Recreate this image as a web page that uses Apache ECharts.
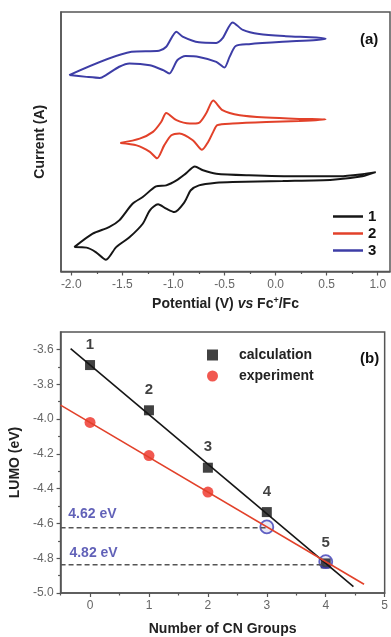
<!DOCTYPE html>
<html>
<head>
<meta charset="utf-8">
<script src="https://cdn.jsdelivr.net/npm/echarts@6/dist/echarts.min.js"></script>
<style>
html,body{margin:0;padding:0;background:#fff;}
#chart{width:391px;height:637px;}
</style>
</head>
<body>
<div id="chart"></div>
<script>
// ---------- Panel (a): cyclic voltammograms (current in arbitrary units) ----------
const cv1Potential = [-1.97,-1.79,-1.63,-1.53,-1.40,-1.30,-1.17,-1.07,-0.97,-0.88,-0.79,-0.71,-0.58,-0.26,0.23,0.63,0.85,0.98,
  0.85,0.56,0.07,-0.42,-0.58,-0.75,-0.83,-0.89,-0.99,-1.07,-1.15,-1.23,-1.30,-1.43,-1.56,-1.66,-1.76,-1.85,-1.97];
const cv1Current = [9.4,14.6,17.1,19.7,26.1,28.7,32.8,33.2,35.1,37.7,40.5,39.0,37.7,37.1,36.7,36.7,37.5,38.3,
  36.7,35.4,34.9,34.5,34.2,33.2,31.3,26.8,22.9,24.2,25.9,23.6,18.4,13.2,9.4,4.5,7.5,9.2,9.4];

const cv2Potential = [-1.52,-1.33,-1.20,-1.12,-1.07,-0.97,-0.84,-0.75,-0.68,-0.61,-0.52,-0.35,-0.09,0.23,0.49,
  0.23,-0.09,-0.42,-0.57,-0.61,-0.66,-0.72,-0.81,-0.94,-1.02,-1.09,-1.16,-1.23,-1.36,-1.52];
const cv2Current = [49.5,51.2,53.8,57.6,61.1,58.3,57.0,57.3,60.9,65.9,62.2,60.2,59.3,58.8,58.6,
  58.0,57.6,57.0,56.4,53.8,49.9,46.9,50.6,53.2,52.5,48.6,43.6,46.1,48.6,49.5];

const cv3Potential = [-2.02,-1.41,-1.14,-1.07,-0.97,-0.91,-0.75,-0.58,-0.52,-0.42,-0.32,-0.16,0.10,0.40,0.49,
  0.40,0.07,-0.26,-0.39,-0.45,-0.50,-0.58,-0.75,-0.88,-0.96,-1.04,-1.10,-1.23,-1.43,-1.53,-1.66,-1.72,-1.85,-2.02];
const cv3Current = [75.7,84.7,85.1,86.6,92.4,90.5,88.3,88.1,89.8,96.0,93.1,91.5,90.7,90.2,89.7,
  89.2,88.5,87.6,86.9,82.7,78.6,80.8,82.7,83.0,81.5,76.3,77.6,79.5,80.2,78.9,75.7,74.6,75.0,75.7];

const potentialTicks = [-2.0,-1.5,-1.0,-0.5,0.0,0.5,1.0];
const potentialMinorTicks = [-1.75,-1.25,-0.75,-0.25,0.25,0.75];
const cvNames = ['1','2','3'];

// ---------- Panel (b): LUMO vs number of CN groups ----------
const cnGroups = [0,1,2,3,4];
const lumoCalc = [-3.69,-3.95,-4.28,-4.535,-4.83];
const compoundLabels = ['1','2','3','4','5'];
const expGroups = [0,1,2];
const lumoExp = [-4.02,-4.21,-4.42];
const openGroups = [3,4];
const lumoOpen = [-4.62,-4.82];
const calcFitX = [-0.33,4.47];
const calcFitY = [-3.596,-4.964];
const expFitX = [-0.5,4.65];
const expFitY = [-3.92,-4.95];
const levelValues = [-4.625,-4.838];
const levelEnds = [3,4];
const levelTexts = ['4.62 eV','4.82 eV'];
const levelTextPos = [[-0.37,-4.546],[-0.35,-4.769]];
const cnTicks = [0,1,2,3,4,5];
const cnMinorTicks = [-0.5,0.5,1.5,2.5,3.5,4.5];
const lumoTicks = [-5.0,-4.8,-4.6,-4.4,-4.2,-4.0,-3.8,-3.6];
const lumoMinorTicks = [-4.9,-4.7,-4.5,-4.3,-4.1,-3.9,-3.7];

const zip = (a,b) => a.map((v,i)=>[v,b[i]]);

const axisCol = '#555';
const labelCol = '#666';
const blue = '#3d3da6';
const red = '#e2412a';
const black = '#161616';
const titleFont = {fontFamily:'Liberation Sans, Arial, sans-serif', fontWeight:'bold', fontSize:14, color:'#222'};

const chart = echarts.init(document.getElementById('chart'), null, {renderer:'canvas'});

const mainLine = {show:true, onZero:false, lineStyle:{color:axisCol, width:1.5}};

const option = {
  animation:false,
  backgroundColor:'#fff',
  textStyle:{fontFamily:'Liberation Sans, Arial, sans-serif'},
  title:[
    {text:'(a)', left:355, top:27, textStyle:{...titleFont, fontSize:15, color:'#111'}},
    {text:'(b)', left:355, top:346, textStyle:{...titleFont, fontSize:15, color:'#111'}}
  ],
  legend:[
    {
      data:cvNames, orient:'vertical', left:333, top:208, itemWidth:30, itemHeight:2.5, itemGap:0,
      padding:0, icon:'rect',
      textStyle:{...titleFont, fontSize:15, color:'#111', lineHeight:17}
    },
    {
      data:[{name:'calculation', icon:'rect'},{name:'experiment', icon:'circle'}],
      orient:'vertical', left:207, top:348, itemWidth:11, itemHeight:11, itemGap:7, padding:0,
      textStyle:{...titleFont, fontSize:14, color:'#222', padding:[0,0,0,16]}
    }
  ],
  grid:[
    {left:61, top:12, width:329, height:259.5, show:true, borderColor:axisCol, borderWidth:1.5, backgroundColor:'#fff'},
    {left:60, top:332, width:330, height:261.75, show:true, borderColor:axisCol, borderWidth:1.5, backgroundColor:'#fff'}
  ],
  xAxis:[
    {
      gridIndex:0, type:'value', min:-2.1, max:1.12, position:'bottom',
      axisLine:mainLine,
      axisTick:{show:true, inside:false, length:4, customValues:potentialTicks, lineStyle:{color:axisCol, width:1.2}},
      axisLabel:{show:true, customValues:potentialTicks, formatter:v=>Number(v).toFixed(1), color:labelCol, fontSize:12, margin:7},
      splitLine:{show:false},
      name:'{a|Potential (V) }{i|vs}{a| Fc}{s|+}{a|/Fc}', nameLocation:'middle', nameGap:25,
      nameTextStyle:{rich:{
        a:{...titleFont, fontSize:14},
        i:{...titleFont, fontSize:14, fontStyle:'italic'},
        s:{...titleFont, fontSize:9, verticalAlign:'top', padding:[0,0,6,0]}
      }}
    },
    {
      gridIndex:0, type:'value', min:-2.1, max:1.12, position:'bottom', offset:0,
      axisLine:{show:false, onZero:false}, axisLabel:{show:false}, splitLine:{show:false},
      axisTick:{show:true, length:2.5, customValues:potentialMinorTicks, lineStyle:{color:axisCol, width:1.2}}
    },
    {
      gridIndex:1, type:'value', min:-0.5, max:5, position:'bottom',
      axisLine:mainLine,
      axisTick:{show:true, length:4, customValues:cnTicks, lineStyle:{color:axisCol, width:1.2}},
      axisLabel:{show:true, customValues:cnTicks, color:labelCol, fontSize:12, margin:7},
      splitLine:{show:false},
      name:'Number of CN Groups', nameLocation:'middle', nameGap:29, nameTextStyle:{...titleFont, fontSize:14}
    },
    {
      gridIndex:1, type:'value', min:-0.5, max:5, position:'bottom', offset:0,
      axisLine:{show:false, onZero:false}, axisLabel:{show:false}, splitLine:{show:false},
      axisTick:{show:true, length:2.5, customValues:cnMinorTicks, lineStyle:{color:axisCol, width:1.2}}
    }
  ],
  yAxis:[
    {
      gridIndex:0, type:'value', min:0, max:100, position:'left',
      axisLine:mainLine,
      axisTick:{show:false}, axisLabel:{show:false}, splitLine:{show:false},
      name:'Current (A)', nameLocation:'middle', nameGap:14, nameTextStyle:{...titleFont, fontSize:14}
    },
    {
      gridIndex:1, type:'value', min:-5.0, max:-3.5, position:'left',
      axisLine:mainLine,
      axisTick:{show:true, length:4, customValues:lumoTicks, lineStyle:{color:axisCol, width:1.2}},
      axisLabel:{show:true, customValues:lumoTicks, formatter:v=>Number(v).toFixed(1), color:labelCol, fontSize:12, margin:7},
      splitLine:{show:false},
      name:'LUMO (eV)', nameLocation:'middle', nameGap:36, nameTextStyle:{...titleFont, fontSize:14}
    },
    {
      gridIndex:1, type:'value', min:-5.0, max:-3.5, position:'left', offset:0,
      axisLine:{show:false, onZero:false}, axisLabel:{show:false}, splitLine:{show:false},
      axisTick:{show:true, length:2.5, customValues:lumoMinorTicks, lineStyle:{color:axisCol, width:1.2}}
    }
  ],
  series:[
    // panel (a)
    {name:'3', type:'line', xAxisIndex:0, yAxisIndex:0, data:zip(cv3Potential,cv3Current), symbol:'none', smooth:0.25,
      lineStyle:{color:blue, width:2}, itemStyle:{color:blue}},
    {name:'2', type:'line', xAxisIndex:0, yAxisIndex:0, data:zip(cv2Potential,cv2Current), symbol:'none', smooth:0.25,
      lineStyle:{color:red, width:2}, itemStyle:{color:red}},
    {name:'1', type:'line', xAxisIndex:0, yAxisIndex:0, data:zip(cv1Potential,cv1Current), symbol:'none', smooth:0.25,
      lineStyle:{color:black, width:2}, itemStyle:{color:black}},
    // panel (b): dashed guide levels
    ...levelValues.map((lv,i)=>({
      type:'line', xAxisIndex:2, yAxisIndex:1, data:[[-0.5,lv],[levelEnds[i],lv]], symbol:'none',
      lineStyle:{color:'#555', width:1.5, type:[5,3]}, silent:true
    })),
    // fit lines
    {type:'line', xAxisIndex:2, yAxisIndex:1, data:zip(calcFitX,calcFitY), symbol:'none', lineStyle:{color:black, width:1.6}},
    {type:'line', xAxisIndex:2, yAxisIndex:1, data:zip(expFitX,expFitY), symbol:'none', lineStyle:{color:red, width:1.6}},
    // points
    {name:'experiment', type:'scatter', xAxisIndex:2, yAxisIndex:1, data:zip(expGroups,lumoExp), symbol:'circle', symbolSize:11,
      itemStyle:{color:'#ee2e24'}},
    {name:'calculation', type:'scatter', xAxisIndex:2, yAxisIndex:1, data:zip(cnGroups,lumoCalc), symbol:'rect', symbolSize:10,
      itemStyle:{color:'#111'},
      label:{show:true, position:'top', distance:8, formatter:p=>compoundLabels[p.dataIndex], ...titleFont, fontSize:15, color:'#111'}},
    {type:'scatter', xAxisIndex:2, yAxisIndex:1, data:zip(openGroups,lumoOpen), symbol:'circle', symbolSize:13,
      itemStyle:{color:'rgba(61,61,166,0.15)', borderColor:'#3b3bb5', borderWidth:1.8}},
    // level labels
    {type:'scatter', xAxisIndex:2, yAxisIndex:1, data:levelTextPos, symbolSize:0, silent:true,
      label:{show:true, position:'right', distance:0, formatter:p=>levelTexts[p.dataIndex], ...titleFont, fontSize:14, color:'#3a3aa6'}}
  ]
};
chart.setOption(option);
</script>
</body>
</html>
